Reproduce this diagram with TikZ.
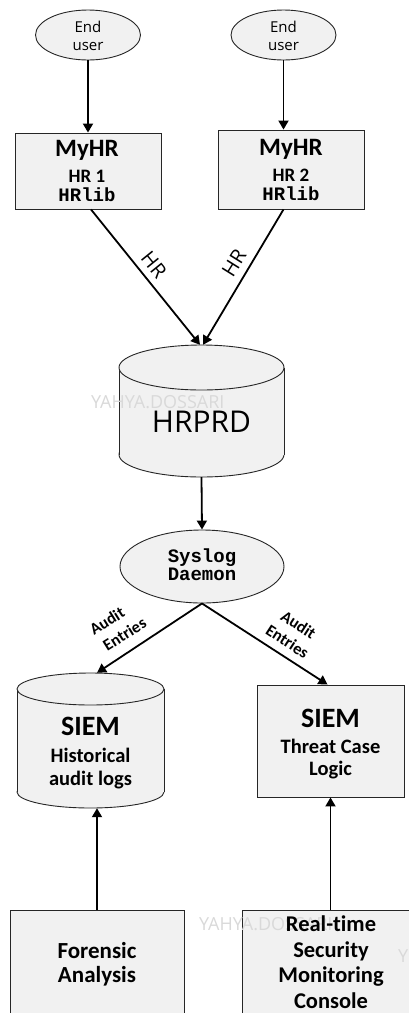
\documentclass[tikz,border=0pt]{standalone}
\usepackage{fontspec}
\setmainfont{Carlito}[Ligatures=NoCommon]
\newfontfamily\os{Open Sans}
\newfontfamily\mono{Liberation Mono}
\usetikzlibrary{arrows.meta,shapes.geometric}
\definecolor{fillc}{HTML}{F1F1F1}
\definecolor{bordc}{HTML}{262626}
\definecolor{wmark}{HTML}{D9D9D9}
\tikzset{
  bord/.style={draw=bordc, line width=0.9pt},
  boxst/.style={bord, fill=fillc, rectangle, inner sep=0pt},
  ellst/.style={bord, fill=fillc, ellipse, inner sep=0pt},
  ghost/.style={rectangle, inner sep=0pt, draw=none},
  arr/.style={line width=1.8pt, black, -{Triangle[length=9pt,width=10pt]}},
  txt/.style={anchor=base, inner sep=0pt},
  wm/.style={anchor=base west, inner sep=0pt, text=wmark, font=\os\fontsize{18}{20}\selectfont},
  rlab/.style={inner sep=0pt, font=\bfseries\fontsize{16.5}{17}\selectfont},
}
\begin{document}
\begin{tikzpicture}[x=1pt,y=-1pt]
\fill[white] (0,0) rectangle (409,1013);
\useasboundingbox (0,0) rectangle (409,1013);

% top ellipses
\node[ellst, minimum width=105pt, minimum height=50pt] (eu1) at (88,35) {};
\node[ellst, minimum width=105pt, minimum height=50pt] (eu2) at (283.5,35) {};

% MyHR boxes
\node[boxst, minimum width=146pt, minimum height=76pt] (b1) at (88,171) {};
\node[boxst, minimum width=146pt, minimum height=79pt] (b2) at (291,169.5) {};

% HRPRD cylinder
\filldraw[bord, fill=fillc] (201.5,454.5) ellipse[x radius=82.5, y radius=22.5];
\fill[fillc] (119,367.5) rectangle (284,454.5);
\draw[bord] (119,367.5) -- (119,454.5) (284,367.5) -- (284,454.5);
\filldraw[bord, fill=fillc] (201.5,367.5) ellipse[x radius=82.5, y radius=22.5];
\node[ghost, minimum width=165pt, minimum height=132pt] (hrprd) at (201.5,411) {};

% Syslog ellipse
\node[ellst, minimum width=164pt, minimum height=73pt] (syslog) at (202,566.5) {};

% SIEM historical cylinder
\filldraw[bord, fill=fillc] (90.5,792) ellipse[x radius=73.5, y radius=16];
\fill[fillc] (17,689) rectangle (164,792);
\draw[bord] (17,689) -- (17,792) (164,689) -- (164,792);
\filldraw[bord, fill=fillc] (90.5,689) ellipse[x radius=73.5, y radius=16];
\node[ghost, minimum width=147pt, minimum height=135pt] (siem1) at (90.5,740.5) {};

% SIEM threat case box
\node[boxst, minimum width=147pt, minimum height=112pt] (siem2) at (330.5,741) {};

% bottom boxes
\node[boxst, minimum width=174pt, minimum height=120pt] (forensic) at (97,970) {};
\node[boxst, minimum width=188pt, minimum height=120pt] (rt) at (336,970) {};

% watermarks
\node[wm] (wm1) at (91,408) {YAHYA.DOSSARI};
\node[wm] (wm2) at (199,930) {YAHYA.DOSSARI};
\node[wm] (wm3) at (398,962) {Y};

% texts
\node[txt, font=\os\fontsize{15}{17}\selectfont] (eu1a) at (88,32) {End};
\node[txt, font=\os\fontsize{15}{17}\selectfont] (eu1b) at (88,50) {user};
\node[txt, font=\os\fontsize{15}{17}\selectfont] (eu2a) at (283.5,32) {End};
\node[txt, font=\os\fontsize{15}{17}\selectfont] (eu2b) at (283.5,50) {user};

\node[txt, font=\bfseries\fontsize{25}{27}\selectfont] (b1a) at (87,156) {MyHR};
\node[txt, font=\bfseries\fontsize{19}{21}\selectfont] (b1b) at (87,182) {HR 1};
\node[txt, font=\mono\bfseries\fontsize{19}{21}\selectfont] (b1c) at (87,201) {HRlib};
\node[txt, font=\bfseries\fontsize{25}{27}\selectfont] (b2a) at (291,155) {MyHR};
\node[txt, font=\bfseries\fontsize{19}{21}\selectfont] (b2b) at (291,181) {HR 2};
\node[txt, font=\mono\bfseries\fontsize{19}{21}\selectfont] (b2c) at (291,200) {HRlib};

\node[txt, font=\os\fontsize{30}{32}\selectfont] (hrprdt) at (201.5,432) {HRPRD};

\node[txt, font=\mono\bfseries\fontsize{19}{21}\selectfont] (sy1) at (202,562) {Syslog};
\node[txt, font=\mono\bfseries\fontsize{19}{21}\selectfont] (sy2) at (202,580) {Daemon};

\node[txt, font=\bfseries\fontsize{28}{30}\selectfont] (s1a) at (90.5,735) {SIEM};
\node[txt, font=\bfseries\fontsize{20.5}{22}\selectfont] (s1b) at (90.5,762) {Historical};
\node[txt, font=\bfseries\fontsize{20.5}{22}\selectfont] (s1c) at (90.5,785) {audit logs};

\node[txt, font=\bfseries\fontsize{28}{30}\selectfont] (s2a) at (330.5,727) {SIEM};
\node[txt, font=\bfseries\fontsize{20.5}{22}\selectfont] (s2b) at (330.5,753) {Threat Case};
\node[txt, font=\bfseries\fontsize{20.5}{22}\selectfont] (s2c) at (330.5,775) {Logic};

\node[txt, font=\bfseries\fontsize{23}{25}\selectfont] (fa) at (97,958) {Forensic};
\node[txt, font=\bfseries\fontsize{23}{25}\selectfont] (fb) at (97,982) {Analysis};

\node[txt, font=\bfseries\fontsize{22.5}{24}\selectfont] (ra) at (331,931) {Real-time};
\node[txt, font=\bfseries\fontsize{22.5}{24}\selectfont] (rb) at (331,957) {Security};
\node[txt, font=\bfseries\fontsize{22.5}{24}\selectfont] (rc) at (331,982) {Monitoring};
\node[txt, font=\bfseries\fontsize{22.5}{24}\selectfont] (rd) at (331,1008) {Console};

% connectors
\draw[arr] (eu1.south) -- (b1.north);
\draw[arr] (eu2.south) -- (eu2.south |- b2.north);
\draw[arr] ([xshift=3pt]b1.south) -- ([xshift=-1.5pt]hrprd.north);
\draw[arr] (b2.south -| eu2.south) -- ([xshift=1.5pt]hrprd.north);
\draw[arr] (hrprd.south) -- (syslog.north);
\draw[arr] (syslog.south) -- (forensic.north |- siem1.north);
\draw[arr] (syslog.south) -- ([xshift=-3pt]siem2.north);
\draw[arr] (forensic.north) -- (forensic.north |- siem1.south);
\draw[arr] (rt.north -| siem2.south) -- (siem2.south);

% edge labels
\node[inner sep=0pt, font=\os\fontsize{20}{22}\selectfont, rotate=-51] (hrl) at (154,265) {HR};
\node[inner sep=0pt, font=\os\fontsize{20}{22}\selectfont, rotate=58] (hrr) at (234,263) {HR};
\node[rlab, rotate=32] (al1) at (107,621) {Audit};
\node[rlab, rotate=32] (al2) at (124.5,634) {Entries};
\node[rlab, rotate=-33] (ar1) at (298.5,624.5) {Audit};
\node[rlab, rotate=-33] (ar2) at (287.5,641.5) {Entries};
\end{tikzpicture}
\end{document}
